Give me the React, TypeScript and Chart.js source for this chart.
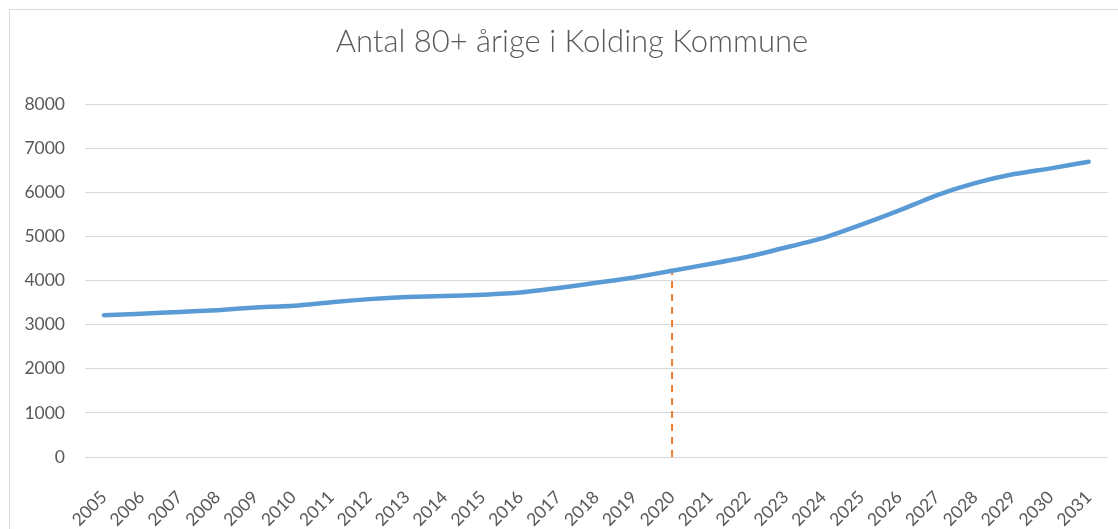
import React, { useEffect, useRef } from "react";
import { Chart, registerables } from "chart.js";

Chart.register(...registerables);

const TITLE = "Antal 80+ årige i Kolding Kommune";
const YEARS = [
  "2005", "2006", "2007", "2008", "2009", "2010", "2011", "2012", "2013",
  "2014", "2015", "2016", "2017", "2018", "2019", "2020", "2021", "2022",
  "2023", "2024", "2025", "2026", "2027", "2028", "2029", "2030", "2031",
];
const VALUES = [
  3215, 3250, 3290, 3330, 3390, 3430, 3510, 3580, 3630, 3650, 3680, 3730,
  3830, 3950, 4070, 4225, 4375, 4540, 4750, 4970, 5270, 5590, 5940, 6210,
  6410, 6545, 6695,
];
const MARK_YEAR = "2020";
const MARK_VALUE = 4225;
const Y_MIN = 0;
const Y_MAX = 8000;
const Y_STEP = 1000;

const FONT = "Lato, 'Open Sans', sans-serif";
const TEXT = "#595959";

export default function App() {
  const ref = useRef<HTMLCanvasElement | null>(null);

  useEffect(() => {
    if (!ref.current) return;
    const chart = new Chart(ref.current, {
      type: "line",
      data: {
        labels: YEARS,
        datasets: [
          {
            data: VALUES,
            borderColor: "#5B9BD5",
            backgroundColor: "#5B9BD5",
            borderWidth: 4.5,
            pointRadius: 0,
            tension: 0.15,
            borderCapStyle: "round",
            borderJoinStyle: "round",
          },
          {
            data: [
              { x: MARK_YEAR, y: 0 },
              { x: MARK_YEAR, y: MARK_VALUE },
            ] as any,
            borderColor: "#ED7D31",
            borderWidth: 2,
            borderDash: [7, 6],
            pointRadius: 0,
            tension: 0,
          },
        ],
      },
      options: {
        animation: false,
        responsive: false,
        maintainAspectRatio: false,
        layout: { padding: { left: 0, right: 0, top: 13, bottom: 0 } },
        plugins: {
          legend: { display: false },
          tooltip: { enabled: false },
          title: {
            display: true,
            text: TITLE,
            color: TEXT,
            font: { family: FONT, size: 31, weight: "300" as any, lineHeight: 1.2 },
            padding: { top: 0, bottom: 44 },
          },
        },
        scales: {
          x: {
            offset: true,
            grid: { display: false, drawTicks: false },
            border: { display: false },
            ticks: {
              color: TEXT,
              font: { family: FONT, size: 17.5 },
              maxRotation: 45,
              minRotation: 45,
              padding: 30,
              autoSkip: false,
            },
            afterFit: (s: any) => {
              s.height = 530 - 447;
            },
          },
          y: {
            min: Y_MIN,
            max: Y_MAX,
            grid: { color: "#d9d9d9", lineWidth: 1, drawTicks: false },
            border: { display: false },
            ticks: {
              stepSize: Y_STEP,
              color: TEXT,
              font: { family: FONT, size: 17.5 },
              padding: 20,
              callback: (v: any) => String(v),
            },
            afterFit: (s: any) => {
              s.width = 75;
            },
          },
          spacer: {
            type: "linear",
            position: "right",
            display: true,
            grid: { display: false, drawTicks: false },
            border: { display: false },
            ticks: { display: false },
            afterFit: (s: any) => {
              s.width = 25;
            },
          },
        },
      },
    });
    return () => chart.destroy();
  }, []);

  return (
    <div
      style={{
        position: "fixed",
        left: 0,
        top: 0,
        width: 1118,
        height: 529,
        overflow: "hidden",
        background: "#ffffff",
      }}
    >
      <div
        style={{
          position: "absolute",
          left: 9,
          top: 9,
          width: 1124,
          height: 560,
          border: "1px solid #d9d9d9",
          boxSizing: "border-box",
        }}
      >
        <canvas
          ref={ref}
          width={1124}
          height={530}
          style={{ position: "absolute", left: 0, top: 0, width: 1124, height: 530 }}
        />
      </div>
    </div>
  );
}
